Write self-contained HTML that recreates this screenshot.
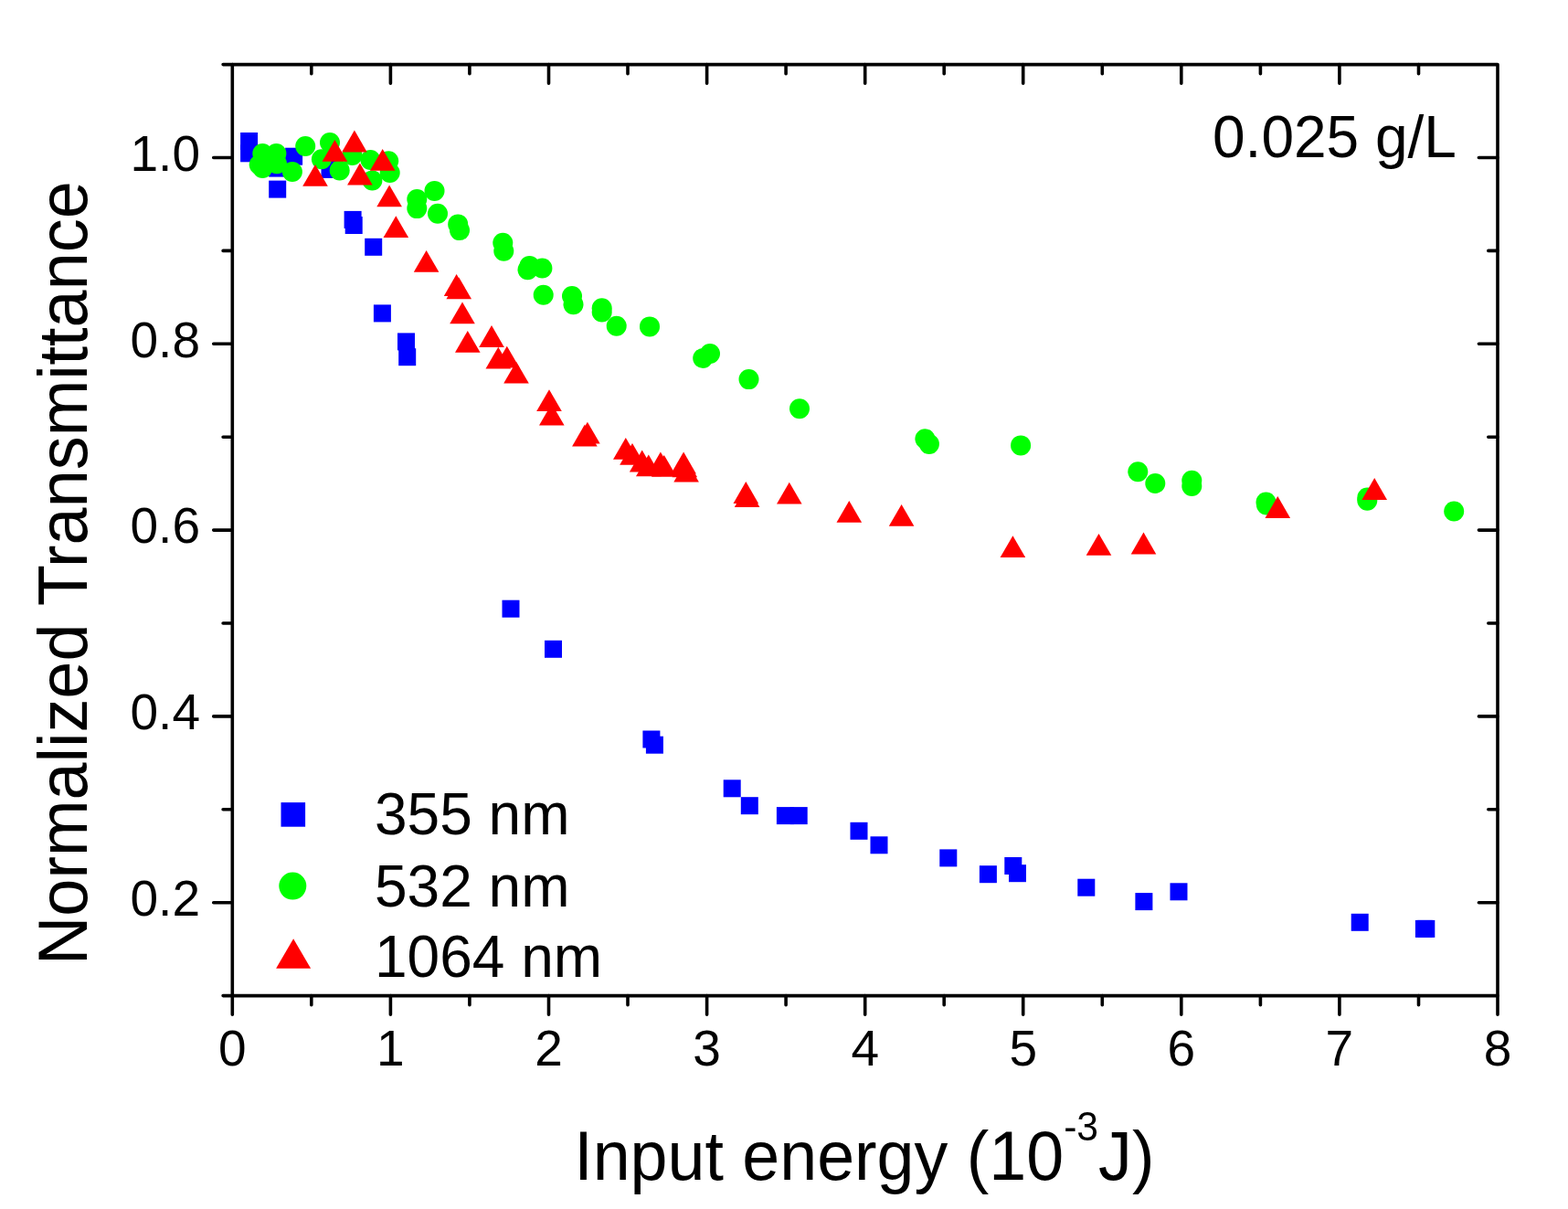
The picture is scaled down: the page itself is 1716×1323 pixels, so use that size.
<!DOCTYPE html>
<html><head><meta charset="utf-8"><title>Normalized Transmittance</title>
<style>html,body{margin:0;padding:0;background:#fff;width:1716px;height:1323px;overflow:hidden;}svg{display:block;}text{font-family:"Liberation Sans",Arial,sans-serif;fill:#000;}</style></head><body>
<svg width="1716" height="1323" viewBox="0 0 1716 1323">
<rect x="0" y="0" width="1716" height="1323" fill="#fff"/>
<g fill="#0000ff"><rect x="263.1" y="145.0" width="19.0" height="19.0"/><rect x="263.1" y="158.3" width="19.0" height="19.0"/><rect x="312.1" y="161.7" width="19.0" height="19.0"/><rect x="294.2" y="174.6" width="19.0" height="19.0"/><rect x="294.2" y="197.6" width="19.0" height="19.0"/><rect x="351.5" y="175.9" width="19.0" height="19.0"/><rect x="376.6" y="230.9" width="19.0" height="19.0"/><rect x="377.7" y="237.0" width="19.0" height="19.0"/><rect x="399.2" y="260.8" width="19.0" height="19.0"/><rect x="408.9" y="333.4" width="19.0" height="19.0"/><rect x="435.0" y="364.4" width="19.0" height="19.0"/><rect x="436.2" y="381.2" width="19.0" height="19.0"/><rect x="549.5" y="656.7" width="19.0" height="19.0"/><rect x="596.0" y="700.8" width="19.0" height="19.0"/><rect x="703.4" y="799.5" width="19.0" height="19.0"/><rect x="706.9" y="805.7" width="19.0" height="19.0"/><rect x="791.7" y="853.3" width="19.0" height="19.0"/><rect x="810.8" y="872.2" width="19.0" height="19.0"/><rect x="849.9" y="883.1" width="19.0" height="19.0"/><rect x="864.7" y="883.1" width="19.0" height="19.0"/><rect x="930.5" y="899.8" width="19.0" height="19.0"/><rect x="952.5" y="915.3" width="19.0" height="19.0"/><rect x="1028.3" y="929.4" width="19.0" height="19.0"/><rect x="1071.9" y="947.2" width="19.0" height="19.0"/><rect x="1099.3" y="938.0" width="19.0" height="19.0"/><rect x="1104.0" y="946.2" width="19.0" height="19.0"/><rect x="1179.3" y="961.7" width="19.0" height="19.0"/><rect x="1242.4" y="977.1" width="19.0" height="19.0"/><rect x="1280.5" y="966.3" width="19.0" height="19.0"/><rect x="1478.7" y="999.8" width="19.0" height="19.0"/><rect x="1548.9" y="1006.9" width="19.0" height="19.0"/><rect x="1551.3" y="1006.9" width="19.0" height="19.0"/></g>
<g fill="#00ff00"><circle cx="287.3" cy="168.1" r="11.0"/><circle cx="302.4" cy="168.1" r="11.0"/><circle cx="283.7" cy="180.3" r="11.0"/><circle cx="287.3" cy="183.9" r="11.0"/><circle cx="303.0" cy="179.3" r="11.0"/><circle cx="319.9" cy="188.0" r="11.0"/><circle cx="334.2" cy="160.0" r="11.0"/><circle cx="361.0" cy="156.0" r="11.0"/><circle cx="351.9" cy="174.3" r="11.0"/><circle cx="371.7" cy="186.5" r="11.0"/><circle cx="385.5" cy="170.0" r="11.0"/><circle cx="405.4" cy="175.0" r="11.0"/><circle cx="407.4" cy="197.5" r="11.0"/><circle cx="426.7" cy="189.0" r="11.0"/><circle cx="425.2" cy="176.2" r="11.0"/><circle cx="456.3" cy="218.0" r="11.0"/><circle cx="456.3" cy="228.1" r="11.0"/><circle cx="475.5" cy="208.9" r="11.0"/><circle cx="479.0" cy="233.8" r="11.0"/><circle cx="501.2" cy="245.4" r="11.0"/><circle cx="503.0" cy="252.1" r="11.0"/><circle cx="550.3" cy="265.8" r="11.0"/><circle cx="551.3" cy="274.8" r="11.0"/><circle cx="579.5" cy="290.9" r="11.0"/><circle cx="577.5" cy="295.2" r="11.0"/><circle cx="593.4" cy="293.5" r="11.0"/><circle cx="594.7" cy="322.8" r="11.0"/><circle cx="626.0" cy="324.0" r="11.0"/><circle cx="627.5" cy="333.3" r="11.0"/><circle cx="658.7" cy="337.2" r="11.0"/><circle cx="658.7" cy="341.5" r="11.0"/><circle cx="674.7" cy="356.8" r="11.0"/><circle cx="711.0" cy="357.4" r="11.0"/><circle cx="769.2" cy="392.0" r="11.0"/><circle cx="777.0" cy="387.0" r="11.0"/><circle cx="819.5" cy="415.1" r="11.0"/><circle cx="875.0" cy="447.3" r="11.0"/><circle cx="1012.4" cy="480.3" r="11.0"/><circle cx="1016.9" cy="485.9" r="11.0"/><circle cx="1117.1" cy="487.4" r="11.0"/><circle cx="1245.3" cy="516.3" r="11.0"/><circle cx="1264.3" cy="529.0" r="11.0"/><circle cx="1304.3" cy="525.7" r="11.0"/><circle cx="1304.3" cy="532.0" r="11.0"/><circle cx="1385.5" cy="549.6" r="11.0"/><circle cx="1386.0" cy="552.4" r="11.0"/><circle cx="1496.3" cy="544.6" r="11.0"/><circle cx="1496.3" cy="547.7" r="11.0"/><circle cx="1591.2" cy="559.5" r="11.0"/></g>
<g fill="#ff0000"><polygon points="345.0,179.9 358.8,203.7 331.2,203.7"/><polygon points="366.4,152.9 380.2,176.7 352.6,176.7"/><polygon points="387.9,142.6 401.7,166.4 374.1,166.4"/><polygon points="393.9,178.6 407.7,202.4 380.1,202.4"/><polygon points="418.7,163.0 432.5,186.8 404.9,186.8"/><polygon points="426.1,202.4 439.9,226.2 412.3,226.2"/><polygon points="433.3,236.3 447.1,260.1 419.5,260.1"/><polygon points="466.6,273.9 480.4,297.7 452.8,297.7"/><polygon points="499.6,300.1 513.4,323.9 485.8,323.9"/><polygon points="502.2,303.4 516.0,327.2 488.4,327.2"/><polygon points="506.0,330.5 519.8,354.3 492.2,354.3"/><polygon points="511.8,362.0 525.6,385.8 498.0,385.8"/><polygon points="538.0,356.1 551.8,379.9 524.2,379.9"/><polygon points="545.3,379.7 559.1,403.5 531.5,403.5"/><polygon points="554.8,378.8 568.6,402.6 541.0,402.6"/><polygon points="565.0,395.7 578.8,419.5 551.2,419.5"/><polygon points="601.0,426.3 614.8,450.1 587.2,450.1"/><polygon points="603.8,441.8 617.6,465.6 590.0,465.6"/><polygon points="639.9,464.6 653.7,488.4 626.1,488.4"/><polygon points="642.9,461.8 656.7,485.6 629.1,485.6"/><polygon points="684.8,478.9 698.6,502.7 671.0,502.7"/><polygon points="692.0,484.9 705.8,508.7 678.2,508.7"/><polygon points="702.7,492.6 716.5,516.4 688.9,516.4"/><polygon points="709.8,497.4 723.6,521.2 696.0,521.2"/><polygon points="722.9,494.6 736.7,518.4 709.1,518.4"/><polygon points="726.8,497.9 740.6,521.7 713.0,521.7"/><polygon points="748.1,494.6 761.9,518.4 734.3,518.4"/><polygon points="749.3,498.5 763.1,522.3 735.5,522.3"/><polygon points="751.1,503.8 764.9,527.6 737.3,527.6"/><polygon points="816.3,527.1 830.1,550.9 802.5,550.9"/><polygon points="817.6,531.1 831.4,554.9 803.8,554.9"/><polygon points="863.8,527.7 877.6,551.5 850.0,551.5"/><polygon points="929.3,547.9 943.1,571.7 915.5,571.7"/><polygon points="986.6,551.9 1000.4,575.7 972.8,575.7"/><polygon points="1108.4,586.2 1122.2,610.0 1094.6,610.0"/><polygon points="1202.5,583.9 1216.3,607.7 1188.7,607.7"/><polygon points="1251.5,582.6 1265.3,606.4 1237.7,606.4"/><polygon points="1398.3,543.1 1412.1,566.9 1384.5,566.9"/><polygon points="1504.2,523.1 1518.0,546.9 1490.4,546.9"/></g>
<path d="M254.3 1089.6V1110.2M340.8 1089.6V1099.8M340.8 70.6V80.8M427.4 1089.6V1110.2M427.4 70.6V91.2M513.9 1089.6V1099.8M513.9 70.6V80.8M600.5 1089.6V1110.2M600.5 70.6V91.2M687.0 1089.6V1099.8M687.0 70.6V80.8M773.6 1089.6V1110.2M773.6 70.6V91.2M860.1 1089.6V1099.8M860.1 70.6V80.8M946.7 1089.6V1110.2M946.7 70.6V91.2M1033.2 1089.6V1099.8M1033.2 70.6V80.8M1119.7 1089.6V1110.2M1119.7 70.6V91.2M1206.3 1089.6V1099.8M1206.3 70.6V80.8M1292.8 1089.6V1110.2M1292.8 70.6V91.2M1379.4 1089.6V1099.8M1379.4 70.6V80.8M1465.9 1089.6V1110.2M1465.9 70.6V91.2M1552.5 1089.6V1099.8M1552.5 70.6V80.8M1639.0 1089.6V1110.2M254.3 1089.6H244.1M254.3 987.7H233.7M1639.0 987.7H1618.4M254.3 885.8H244.1M1639.0 885.8H1628.8M254.3 783.9H233.7M1639.0 783.9H1618.4M254.3 682.0H244.1M1639.0 682.0H1628.8M254.3 580.1H233.7M1639.0 580.1H1618.4M254.3 478.2H244.1M1639.0 478.2H1628.8M254.3 376.3H233.7M1639.0 376.3H1618.4M254.3 274.4H244.1M1639.0 274.4H1628.8M254.3 172.5H233.7M1639.0 172.5H1618.4M254.3 70.6H244.1" stroke="#000" stroke-width="3.6" fill="none" stroke-linecap="round"/>
<path d="M254.3 70.6H1639.0M1639.0 70.6V1089.6M1639.0 1089.6H254.3M254.3 1089.6V70.6" stroke="#000" stroke-width="3.6" fill="none" stroke-linecap="round"/>
<g font-size="55"><text x="254.3" y="1166.4" text-anchor="middle">0</text><text x="427.4" y="1166.4" text-anchor="middle">1</text><text x="600.5" y="1166.4" text-anchor="middle">2</text><text x="773.6" y="1166.4" text-anchor="middle">3</text><text x="946.7" y="1166.4" text-anchor="middle">4</text><text x="1119.7" y="1166.4" text-anchor="middle">5</text><text x="1292.8" y="1166.4" text-anchor="middle">6</text><text x="1465.9" y="1166.4" text-anchor="middle">7</text><text x="1639.0" y="1166.4" text-anchor="middle">8</text><text x="219" y="1002.0" text-anchor="end">0.2</text><text x="219" y="798.2" text-anchor="end">0.4</text><text x="219" y="594.4" text-anchor="end">0.6</text><text x="219" y="390.6" text-anchor="end">0.8</text><text x="219" y="186.8" text-anchor="end">1.0</text></g>
<text x="1327" y="172.1" font-size="64">0.025 g/L</text>
<g fill="#0000ff"><rect x="307.5" y="878.1" width="26.6" height="26.6"/></g>
<g fill="#00ff00"><circle cx="320.3" cy="969.6" r="15.0"/></g>
<g fill="#ff0000"><polygon points="321.1,1027.2 340.1,1059.8 302.1,1059.8"/></g>
<text x="410" y="912.9" font-size="64">355 nm</text>
<text x="410" y="991.5" font-size="64">532 nm</text>
<text x="410" y="1069.1" font-size="64">1064 nm</text>
<text transform="translate(628.2 1290.8) scale(1 1.03)" x="0" y="0" font-size="73.6">Input energy (10<tspan font-size="42.7" dy="-41.5">-3</tspan><tspan dy="41.5">J)</tspan></text>
<text transform="translate(95.2 1056) rotate(-90) scale(1.0035 1.03)" x="0" y="0" font-size="73.6">Normalized Transmittance</text>
</svg></body></html>
